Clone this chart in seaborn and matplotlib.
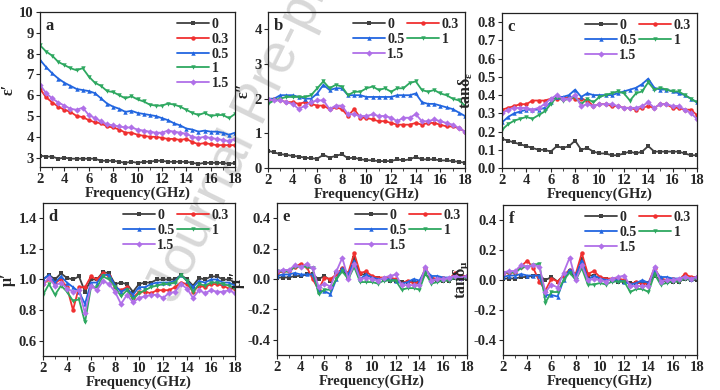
import numpy as np
import pandas as pd
import matplotlib
matplotlib.use("Agg")
import matplotlib.pyplot as plt
import seaborn as sns
from matplotlib.ticker import MultipleLocator

sns.set_theme(style="ticks")
plt.rcParams['font.family'] = ['Liberation Serif', 'DejaVu Serif']
plt.rcParams['font.weight'] = 'bold'
plt.rcParams['mathtext.fontset'] = 'custom'
plt.rcParams['mathtext.rm'] = 'Liberation Serif:bold'
plt.rcParams['mathtext.it'] = 'Liberation Serif:italic:bold'
plt.rcParams['mathtext.bf'] = 'Liberation Serif:bold'

freq = [2.0, 2.5, 3.0, 3.5, 4.0, 4.5, 5.0, 5.5, 6.0, 6.5, 7.0, 7.5, 8.0, 8.5, 9.0, 9.5, 10.0,
        10.5, 11.0, 11.5, 12.0, 12.5, 13.0, 13.5, 14.0, 14.5, 15.0, 15.5, 16.0, 16.5, 17.0, 17.5, 18.0]
samples = ["0", "0.3", "0.5", "1", "1.5"]
xticks = [2, 4, 6, 8, 10, 12, 14, 16, 18]

# (a) real permittivity
eps_r_0 = [3.1, 3.05, 3.05, 2.95, 3.0, 2.95, 2.95, 2.95, 2.95, 2.95, 2.85, 2.85, 2.85, 2.8, 2.75, 2.8, 2.75,
           2.8, 2.8, 2.85, 2.85, 2.8, 2.8, 2.8, 2.8, 2.75, 2.7, 2.75, 2.75, 2.75, 2.75, 2.7, 2.75]
eps_r_03 = [6.3, 5.9, 5.65, 5.45, 5.3, 5.2, 5.0, 4.95, 4.8, 4.7, 4.65, 4.5, 4.45, 4.35, 4.2, 4.2, 4.1,
            4.05, 4.0, 4.0, 3.95, 3.9, 3.9, 3.85, 3.9, 3.75, 3.65, 3.7, 3.65, 3.6, 3.6, 3.6, 3.6]
eps_r_05 = [7.7, 7.35, 7.05, 6.8, 6.6, 6.45, 6.3, 6.25, 6.2, 6.1, 5.85, 5.6, 5.45, 5.35, 5.2, 5.25, 5.15,
            5.1, 5.05, 5.0, 4.9, 4.8, 4.65, 4.55, 4.4, 4.35, 4.25, 4.3, 4.25, 4.25, 4.2, 4.1, 4.2]
eps_r_1 = [8.4, 8.1, 7.9, 7.6, 7.45, 7.3, 7.2, 7.3, 6.9, 6.6, 6.45, 6.2, 6.15, 6.0, 5.85, 5.95, 5.8,
           5.7, 5.55, 5.5, 5.5, 5.6, 5.55, 5.45, 5.3, 5.15, 5.05, 5.15, 5.0, 5.05, 5.05, 4.9, 5.1]
eps_r_15 = [6.5, 6.1, 5.85, 5.65, 5.5, 5.35, 5.3, 5.4, 5.05, 4.9, 4.75, 4.6, 4.55, 4.5, 4.45, 4.45, 4.35,
            4.3, 4.25, 4.2, 4.2, 4.3, 4.25, 4.2, 4.15, 4.0, 3.95, 4.0, 3.95, 3.9, 3.85, 3.8, 3.9]

# (b) imaginary permittivity
eps_i_0 = [0.5, 0.45, 0.4, 0.38, 0.35, 0.33, 0.3, 0.28, 0.27, 0.38, 0.3, 0.35, 0.4, 0.28, 0.3, 0.25, 0.23,
           0.22, 0.2, 0.2, 0.2, 0.25, 0.22, 0.25, 0.32, 0.25, 0.25, 0.25, 0.22, 0.22, 0.2, 0.18, 0.15]
eps_i_03 = [1.95, 2.0, 1.95, 1.9, 1.9, 1.85, 1.9, 1.85, 1.8, 1.8, 1.7, 1.75, 1.7, 1.5, 1.7, 1.45, 1.45,
            1.4, 1.35, 1.35, 1.3, 1.25, 1.25, 1.25, 1.3, 1.25, 1.3, 1.3, 1.25, 1.2, 1.2, 1.15, 1.05]
eps_i_05 = [2.0, 2.0, 2.1, 2.1, 2.1, 2.05, 2.0, 2.0, 2.15, 2.4, 2.25, 2.3, 2.3, 2.1, 2.1, 2.1, 2.05,
            2.05, 2.05, 2.05, 2.05, 2.1, 2.1, 2.1, 2.15, 1.9, 1.85, 1.85, 1.8, 1.75, 1.7, 1.6, 1.5]
eps_i_1 = [1.85, 1.95, 2.0, 2.05, 2.05, 2.05, 2.05, 2.1, 2.3, 2.5, 2.3, 2.4, 2.35, 2.1, 2.2, 2.2, 2.3,
           2.35, 2.25, 2.3, 2.2, 2.3, 2.3, 2.45, 2.5, 2.25, 2.2, 2.25, 2.15, 2.1, 2.0, 1.95, 1.8]
eps_i_15 = [2.0, 1.95, 1.95, 1.9, 1.85, 1.7, 1.8, 1.9, 1.95, 1.95, 1.7, 1.8, 1.8, 1.55, 1.55, 1.5, 1.5,
            1.55, 1.5, 1.5, 1.45, 1.35, 1.45, 1.45, 1.55, 1.35, 1.35, 1.4, 1.35, 1.3, 1.25, 1.15, 1.05]

# (c) dielectric loss tangent
tde_0 = [0.16, 0.15, 0.14, 0.13, 0.12, 0.11, 0.1, 0.1, 0.09, 0.12, 0.11, 0.12, 0.15, 0.1, 0.11, 0.09, 0.08,
         0.08, 0.07, 0.07, 0.08, 0.09, 0.08, 0.09, 0.12, 0.09, 0.09, 0.09, 0.09, 0.09, 0.08, 0.07, 0.07]
tde_03 = [0.32, 0.33, 0.34, 0.35, 0.35, 0.37, 0.37, 0.37, 0.38, 0.38, 0.38, 0.39, 0.38, 0.38, 0.37, 0.34, 0.35,
          0.35, 0.34, 0.34, 0.33, 0.33, 0.32, 0.33, 0.34, 0.33, 0.35, 0.35, 0.33, 0.33, 0.32, 0.32, 0.29]
tde_05 = [0.25, 0.28, 0.3, 0.31, 0.32, 0.32, 0.32, 0.33, 0.36, 0.39, 0.39, 0.4, 0.43, 0.39, 0.41, 0.4, 0.4,
          0.4, 0.4, 0.41, 0.42, 0.43, 0.44, 0.46, 0.49, 0.44, 0.43, 0.43, 0.42, 0.41, 0.4, 0.38, 0.36]
tde_1 = [0.21, 0.24, 0.26, 0.27, 0.28, 0.27, 0.29, 0.31, 0.35, 0.39, 0.37, 0.38, 0.39, 0.35, 0.38, 0.36, 0.39,
         0.4, 0.41, 0.42, 0.41, 0.37, 0.41, 0.42, 0.47, 0.43, 0.44, 0.43, 0.42, 0.42, 0.4, 0.38, 0.36]
tde_15 = [0.3, 0.32, 0.33, 0.33, 0.33, 0.32, 0.33, 0.35, 0.38, 0.4, 0.38, 0.38, 0.4, 0.34, 0.35, 0.34, 0.35,
          0.35, 0.35, 0.34, 0.33, 0.33, 0.33, 0.34, 0.36, 0.33, 0.35, 0.35, 0.34, 0.34, 0.32, 0.3, 0.27]

# (d) real permeability
mu_r_0 = [1.0, 1.03, 1.0, 1.04, 1.01, 1.0, 1.02, 0.92, 1.0, 1.0, 1.05, 1.04, 0.97, 0.98, 0.97, 0.92, 0.97,
          0.98, 0.98, 1.0, 1.0, 1.0, 1.0, 1.03, 1.0, 0.96, 1.01, 1.0, 1.02, 1.02, 1.0, 1.0, 0.98]
mu_r_03 = [0.97, 1.0, 0.98, 1.0, 0.95, 0.8, 0.95, 0.95, 1.02, 1.0, 1.04, 1.02, 0.95, 0.93, 0.95, 0.88, 0.92,
           0.92, 0.91, 0.93, 0.93, 0.93, 0.95, 0.98, 0.97, 0.92, 0.96, 0.95, 0.97, 0.97, 0.96, 0.94, 0.94]
mu_r_05 = [1.0, 1.03, 0.98, 1.02, 0.98, 0.95, 0.92, 0.84, 0.98, 0.98, 1.03, 1.03, 0.96, 0.92, 0.94, 0.9, 0.95,
           0.95, 0.97, 0.98, 0.98, 0.98, 0.99, 1.03, 0.99, 0.95, 0.99, 0.98, 1.0, 1.0, 0.98, 0.98, 0.96]
mu_r_1 = [0.9, 0.97, 0.9, 0.96, 0.92, 0.86, 0.87, 0.72, 0.95, 0.95, 1.02, 1.0, 0.95, 0.89, 0.93, 0.87, 0.91,
          0.93, 0.95, 0.96, 0.97, 0.97, 0.98, 1.03, 0.99, 0.92, 0.97, 0.96, 0.98, 0.98, 0.97, 0.96, 0.94]
mu_r_15 = [0.97, 1.01, 0.96, 0.98, 0.94, 0.92, 0.93, 0.78, 0.96, 0.93, 0.99, 0.97, 0.92, 0.84, 0.9, 0.85, 0.88,
           0.89, 0.9, 0.9, 0.88, 0.91, 0.92, 0.97, 0.94, 0.88, 0.93, 0.91, 0.93, 0.92, 0.92, 0.93, 0.91]

# (e) imaginary permeability
mu_i_0 = [0.01, 0.01, 0.01, 0.02, 0.02, 0.03, 0.03, 0.0, 0.02, -0.01, 0.03, 0.06, 0.01, 0.14, 0.03, 0.03, 0.01,
          0.01, 0.0, -0.01, -0.01, -0.02, -0.02, -0.02, -0.02, 0.03, 0.0, -0.01, -0.01, -0.01, 0.01, 0.0, 0.0]
mu_i_03 = [0.04, 0.05, 0.05, 0.08, 0.1, 0.08, 0.0, -0.07, 0.01, 0.0, 0.03, 0.07, 0.04, 0.17, 0.04, 0.05, 0.02,
           0.01, 0.01, 0.01, 0.0, -0.03, -0.01, -0.03, -0.02, 0.07, 0.01, 0.0, 0.01, 0.0, 0.04, 0.02, 0.02]
mu_i_05 = [0.02, 0.03, 0.03, 0.04, 0.03, 0.03, 0.03, -0.08, -0.08, -0.1, 0.0, 0.07, 0.03, 0.12, 0.0, 0.03, 0.01,
           0.0, 0.0, 0.0, -0.01, -0.03, -0.02, 0.0, -0.01, 0.06, 0.02, 0.02, 0.01, 0.01, 0.02, 0.01, 0.02]
mu_i_1 = [0.05, 0.05, 0.05, 0.08, 0.08, 0.08, 0.07, -0.1, -0.07, -0.07, 0.0, 0.05, 0.0, 0.08, -0.02, -0.02, -0.02,
          -0.03, -0.01, -0.01, -0.01, -0.07, -0.06, -0.06, -0.07, 0.04, -0.03, -0.02, -0.01, -0.01, 0.01, 0.0, 0.01]
mu_i_15 = [0.05, 0.06, 0.06, 0.09, 0.08, 0.1, 0.07, -0.05, -0.03, -0.05, 0.05, 0.14, 0.0, 0.1, 0.0, 0.01, 0.0,
           -0.01, 0.01, 0.02, 0.03, -0.04, -0.04, -0.04, -0.04, 0.08, -0.01, 0.0, 0.0, 0.01, 0.02, 0.01, 0.02]

# (f) magnetic loss tangent
tdm_0 = [0.01, 0.01, 0.01, 0.02, 0.02, 0.03, 0.03, 0.0, 0.02, -0.01, 0.03, 0.06, 0.01, 0.14, 0.03, 0.03, 0.01,
         0.01, 0.0, -0.01, -0.01, -0.02, -0.02, -0.02, -0.02, 0.03, 0.0, -0.01, -0.01, -0.01, 0.01, 0.0, 0.0]
tdm_03 = [0.04, 0.05, 0.05, 0.09, 0.13, 0.08, -0.01, -0.07, 0.01, -0.01, 0.03, 0.07, 0.04, 0.18, 0.04, 0.06, 0.02,
          0.01, 0.01, 0.01, 0.0, -0.03, -0.01, -0.03, -0.02, 0.08, 0.01, 0.0, 0.01, 0.0, 0.04, 0.02, 0.02]
tdm_05 = [0.02, 0.03, 0.03, 0.04, 0.03, 0.03, 0.03, -0.1, -0.1, -0.11, 0.0, 0.07, 0.03, 0.13, 0.0, 0.03, 0.01,
          0.0, 0.0, 0.0, -0.01, -0.03, -0.02, 0.0, -0.02, 0.06, 0.02, 0.02, 0.01, 0.01, 0.02, 0.01, 0.02]
tdm_1 = [0.05, 0.05, 0.05, 0.08, 0.09, 0.1, 0.11, -0.15, -0.08, -0.08, 0.0, 0.05, 0.0, 0.08, -0.03, -0.03, -0.02,
         -0.03, -0.01, -0.01, -0.01, -0.08, -0.06, -0.06, -0.08, 0.04, -0.03, -0.02, -0.01, -0.01, 0.01, 0.0, 0.01]
tdm_15 = [0.05, 0.06, 0.06, 0.1, 0.09, 0.1, 0.09, -0.08, -0.03, -0.05, 0.05, 0.15, 0.0, 0.1, 0.0, 0.01, 0.0,
          -0.01, 0.01, 0.02, 0.03, -0.04, -0.04, -0.04, -0.04, 0.09, -0.01, 0.0, 0.0, 0.01, 0.02, 0.01, 0.02]

palette = {"0": "#404040", "0.3": "#f03030", "0.5": "#2266e0", "1": "#2ea860", "1.5": "#b070e8"}
markers = {"0": "s", "0.3": "o", "0.5": "^", "1": "v", "1.5": "D"}

panels = [
    ("a", [eps_r_0, eps_r_03, eps_r_05, eps_r_1, eps_r_15], "\u03b5\u2032", (2.55, 10), [3, 4, 5, 6, 7, 8, 9, 10], "%d", 1),
    ("b", [eps_i_0, eps_i_03, eps_i_05, eps_i_1, eps_i_15], "\u03b5\u2033", (0, 4.5), [0, 1, 2, 3, 4], "%d", 2),
    ("c", [tde_0, tde_03, tde_05, tde_1, tde_15], r"tan$\mathregular{\delta_\varepsilon}$", (0, 0.85),
     [0, .1, .2, .3, .4, .5, .6, .7, .8], "%.1f", 2),
    ("d", [mu_r_0, mu_r_03, mu_r_05, mu_r_1, mu_r_15], "\u03bc\u2032", (0.5, 1.5), [0.6, 0.8, 1.0, 1.2, 1.4], "%.1f", 2),
    ("e", [mu_i_0, mu_i_03, mu_i_05, mu_i_1, mu_i_15], "\u03bc\u2033", (-0.5, 0.5), [-0.4, -0.2, 0.0, 0.2, 0.4], "%.1f", 2),
    ("f", [tdm_0, tdm_03, tdm_05, tdm_1, tdm_15], r"tan$\mathregular{\delta_\mu}$", (-0.5, 0.5),
     [-0.4, -0.2, 0.0, 0.2, 0.4], "%.1f", 2),
]

positions = [
    [0.0556, 0.5718, 0.2708, 0.3974],
    [0.3722, 0.5692, 0.2736, 0.4000],
    [0.6972, 0.5692, 0.2708, 0.3974],
    [0.0597, 0.0872, 0.2667, 0.3923],
    [0.3847, 0.0897, 0.2639, 0.3897],
    [0.6986, 0.0897, 0.2694, 0.3846],
]

fig = plt.figure(figsize=(7.2, 3.9), dpi=100)

# faint watermark behind the panels
fig.text(175 / 720, 1 - 305 / 390, "Journal Pre-proof", rotation=64, rotation_mode="anchor",
         fontsize=40, color="#d8d8d8", ha="left", va="baseline",
         fontfamily="Liberation Sans", fontweight="normal", zorder=-1)

fs = 10.5
for (letter, series, ylab, ylim, yt, fmt, ncol), pos in zip(panels, positions):
    ax = fig.add_axes(pos)
    ax.set_facecolor("none")
    rows = []
    for s, vals in zip(samples, series):
        for f, v in zip(freq, vals):
            rows.append({"Frequency": f, "value": v, "sample": s})
    df = pd.DataFrame(rows)
    sns.lineplot(data=df, x="Frequency", y="value", hue="sample", style="sample",
                 palette=palette, markers=markers, dashes=False, markersize=3.2,
                 markeredgewidth=0, linewidth=1.3, ax=ax)
    ax.set_xlim(2, 18)
    ax.set_ylim(*ylim)
    ax.set_xticks(xticks)
    ax.xaxis.set_minor_locator(MultipleLocator(1))
    ax.set_yticks(yt)
    ax.set_yticklabels([fmt % v for v in yt])
    ax.tick_params(axis="both", which="major", labelsize=fs, length=3, width=0.8, pad=1.5, direction="out")
    ax.tick_params(axis="x", which="minor", length=2, width=0.6, direction="out")
    for lab in ax.get_xticklabels() + ax.get_yticklabels():
        lab.set_fontweight("bold")
    for sp in ax.spines.values():
        sp.set_linewidth(0.9)
        sp.set_color("#222222")
    ax.set_xlabel("Frequency(GHz)", fontsize=fs, fontweight="bold", labelpad=0)
    ax.set_ylabel(ylab, fontsize=fs + 1, fontweight="bold", labelpad=2)
    ax.text(0.03, 0.96, letter, transform=ax.transAxes, ha="left", va="top",
            fontsize=fs + 1.5, fontweight="bold")
    handles, labels = ax.get_legend_handles_labels()
    if ncol == 2:
        order = [0, 2, 4, 1, 3]  # row-wise: 0, 0.3 / 0.5, 1 / 1.5
        handles = [handles[i] for i in order]
        labels = [labels[i] for i in order]
    leg = ax.legend(handles, labels, loc="upper right", ncol=ncol, frameon=False, fontsize=10,
                    handlelength=2.3, handletextpad=0.2, columnspacing=0.15,
                    labelspacing=0.12, borderaxespad=0.15, borderpad=0.3)
    for t in leg.get_texts():
        t.set_fontweight("bold")

fig.savefig("out.png", dpi=100)
